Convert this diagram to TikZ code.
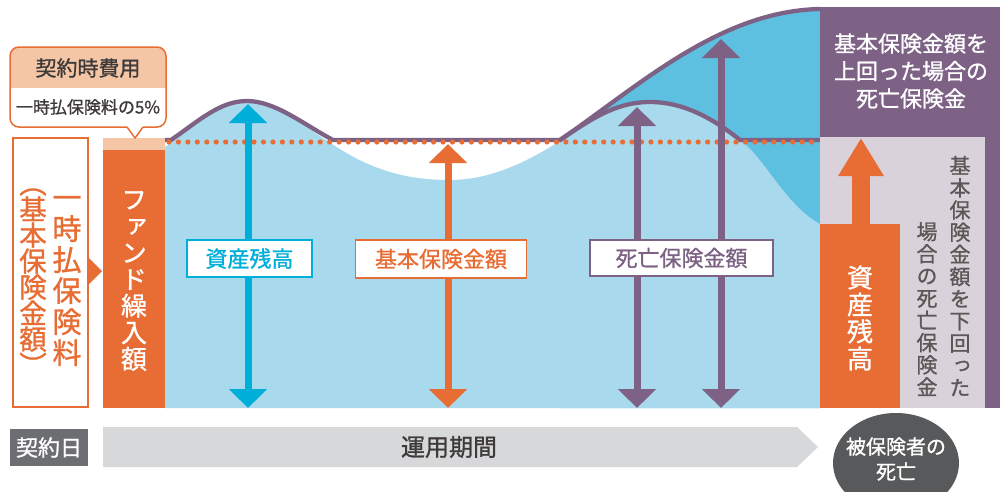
\documentclass[tikz,border=0pt]{standalone}
\usepackage{fontspec}
\setmainfont{Noto Sans CJK JP}[FakeBold=1]
\newfontfamily\jpv{Noto Sans CJK JP}[RawFeature=+vert,FakeBold=1]
\usetikzlibrary{arrows.meta}
\definecolor{cOr}{HTML}{E76D34}
\definecolor{cOrL}{HTML}{F5C6A6}
\definecolor{cPu}{HTML}{7D6285}
\definecolor{cBlL}{HTML}{A9D9EC}
\definecolor{cBlM}{HTML}{5EC0E0}
\definecolor{cCy}{HTML}{00AEDA}
\definecolor{cGrP}{HTML}{D9D2DB}
\definecolor{cGrD}{HTML}{6D6E71}
\definecolor{cCirc}{HTML}{58595B}
\definecolor{cBand}{HTML}{D7D8DA}
\definecolor{cTxt}{HTML}{3E3A39}
\newcommand\fsz[2]{\fontsize{#1}{#2}\selectfont}
\begin{document}
\begin{tikzpicture}[x=1pt,y=-1pt,
  lbl/.style={draw, fill=white, line width=1.8pt, inner sep=0pt, font=\fsz{22}{22}},
  vt/.style={align=center, inner sep=0pt},
  pline/.style={cPu, line width=4.3pt},
  dbl/.style={line width=7pt, >={Triangle[width=37pt,length=19pt]}, <->},
  bigarrow/.style={line width=18pt, -{Triangle[width=43pt,length=38pt]}}
]
\useasboundingbox (0,0) rectangle (1002,491);
\fill[white] (0,0) rectangle (1002,491);

% ---- chart area ----
\fill[cBlM] (560,141) .. controls (640,85) and (720,11) .. (820,9) -- (820,408) -- (560,408) -- cycle;
\fill[cBlL] (165,408) -- (165,147) .. controls (200,122) and (220,101) .. (247,101)
  .. controls (275,101) and (305,127) .. (335,146)
  .. controls (375,172) and (410,180) .. (450,180)
  .. controls (492,180) and (530,160) .. (560,141)
  .. controls (590,121) and (615,102) .. (650,102)
  .. controls (685,102) and (715,120) .. (740,140)
  .. controls (765,158) and (785,205) .. (820,224) -- (820,408) -- cycle;

\draw[pline] (165,140) -- (171,140) .. controls (200,120) and (220,101) .. (247,101)
  .. controls (275,101) and (303,124) .. (333,140) -- (560,140)
  .. controls (590,120) and (615,102) .. (650,102)
  .. controls (685,102) and (715,120) .. (740,140) -- (820,140);
\draw[pline] (560,140) .. controls (640,85) and (720,11) .. (820,9);
\draw[cOr, line width=5.2pt, line cap=round, dash pattern=on 0pt off 9.45pt] (169,142) -- (820,142);

% arrows
\coordinate (cyB) at (248,408); \coordinate (cyT) at (248,104);
\coordinate (orB) at (448,408); \coordinate (orT) at (448,144);
\coordinate (p1B) at (637,408); \coordinate (p1T) at (637,107);
\coordinate (p2B) at (721,408); \coordinate (p2T) at (721,39);
\draw[dbl, cCy] (cyB) -- (cyT);
\draw[dbl, cOr] (orB) -- (orT);
\draw[dbl, cPu] (p1B) -- (p1T);
\draw[dbl, cPu] (p2B) -- (p2T);

\node[lbl, draw=cCy, text=cCy, minimum width=125pt, minimum height=37pt] (lA) at (249.5,258.5) {資産残高};
\node[lbl, draw=cOr, text=cOr, minimum width=171pt, minimum height=38pt] (lB) at (441,259) {基本保険金額};
\node[lbl, draw=cPu, text=cPu, minimum width=183pt, minimum height=36pt] (lC) at (681.5,258) {死亡保険金額};

% ---- left column ----
\fill[cOr] (103,138) rectangle (165,408);
\fill[cOrL] (103,138) rectangle (165,150);
\node[vt, font=\jpv\fsz{26}{26.6}, text=white] (fund) at (134,281) {フ\\ァ\\ン\\ド\\繰\\入\\額};

\draw[cOr, line width=1.8pt, fill=white] (13,138) rectangle (88,407);
\node[vt, font=\jpv\fsz{29}{31}, text=cOr] (pay) at (67,281) {一\\時\\払\\保\\険\\料};
\node[vt, font=\jpv\fsz{27.5}{26}, text=cOr] (base) at (33,282) {︵\\基\\本\\保\\険\\金\\額\\︶};
\fill[cOr] (89,258) -- (102,271) -- (89,284) -- cycle;

% callout
\begin{scope}
\clip[rounded corners=9pt] (10,47) rectangle (166,127);
\fill[white] (10,47) rectangle (166,127);
\fill[cOrL] (10,47) rectangle (166,88);
\end{scope}
\fill[white] (127,126) -- (135,138) -- (143,126) -- cycle;
\draw[cOr, line width=1.5pt, rounded corners=9pt] (127,127) -- (10,127) -- (10,47) -- (166,47) -- (166,127) -- (143,127);
\draw[cOr, line width=1.5pt, line join=round] (143,127) -- (135,138) -- (127,127);
\node[font=\fsz{21}{21}, text=cTxt, inner sep=0pt] (cost) at (88,68) {契約時費用};
\node[font=\fsz{17}{17}, text=cTxt, inner sep=0pt] (costd) at (88,107) {一時払保険料の5\%};

% ---- right panel ----
\fill[cPu] (820,7) rectangle (1000,408);
\fill[cGrP] (820,137) rectangle (985,408);
\fill[cOr] (820,224) rectangle (900,408);
\node[vt, font=\fsz{22}{27.5}, text=white] (over) at (911,71) {基本保険金額を\\上回った場合の\\死亡保険金};
\coordinate (raB) at (861,225); \coordinate (raT) at (861,138);
\draw[bigarrow, cOr] (raB) -- (raT);
\node[vt, font=\jpv\fsz{26}{27}, text=white] (asset) at (860,318) {資\\産\\残\\高};
\node[vt, font=\jpv\fsz{21}{22.2}, text=cTxt!85] (under1) at (960,276) {基\\本\\保\\険\\金\\額\\を\\下\\回\\っ\\た};
\node[vt, font=\jpv\fsz{21}{22.2}, text=cTxt!85] (under2) at (927,309) {場\\合\\の\\死\\亡\\保\\険\\金};

% ---- bottom row ----
\fill[cGrD] (10,429) rectangle (88,466);
\node[font=\fsz{22}{22}, text=white, inner sep=0pt] (day) at (49,447.5) {契約日};
\fill[cBand] (103,427) -- (797,427) -- (818,447) -- (797,467) -- (103,467) -- cycle;
\node[font=\fsz{24}{24}, text=cTxt, inner sep=0pt] (period) at (449,447) {運用期間};
\fill[cCirc] (896,463) ellipse [x radius=63, y radius=50];
\node[vt, font=\fsz{20}{25}, text=white] (death) at (896,459) {被保険者の\\死亡};
\end{tikzpicture}
\end{document}
